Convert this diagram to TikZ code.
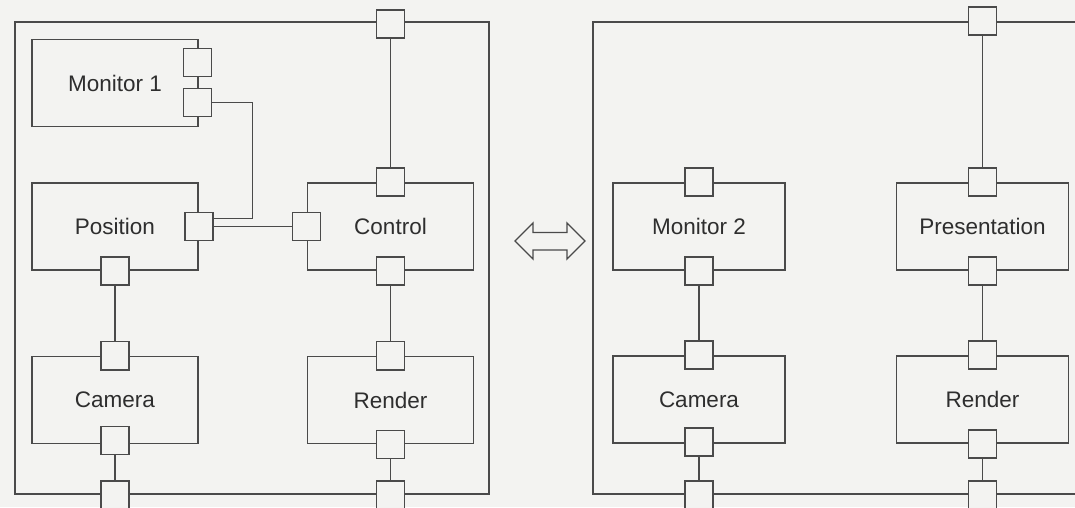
\documentclass[tikz,border=0pt]{standalone}
\usepackage{fontspec}
\setmainfont{Liberation Sans}
\usepackage{xcolor}
\usetikzlibrary{positioning}
\definecolor{bgcol}{HTML}{F3F3F1}
\definecolor{linecol}{HTML}{4A4A4A}

\begin{document}
\begin{tikzpicture}[x=0.025cm,y=-0.025cm]
\tikzstyle{frame}=[rectangle,draw=linecol,line width=1.1pt,minimum height=11.8cm];
\tikzstyle{comp}=[rectangle,draw=linecol,line width=1.1pt,minimum width=4.15cm,minimum height=2.175cm,text=black!82,font=\fontsize{16}{19}\selectfont];
\tikzstyle{wcomp}=[comp,minimum width=4.3cm];
\tikzstyle{port}=[rectangle,draw=linecol,fill=bgcol,line width=1.1pt,minimum size=0.7cm,inner sep=0pt];
\tikzstyle{wire}=[draw=linecol,line width=1.1pt];
\path[use as bounding box,fill=bgcol] (0,0) rectangle (1075,507);
\clip (0,0) rectangle (1075,507);
% the two systems
\node[frame,minimum width=11.85cm](left) at (252,258){};
\node[frame,minimum width=12.7cm](right) at (847,258){};
% components
\node[comp](mon1) at (115,83){Monitor 1};
\node[comp](pos) at (115,226.5){Position};
\node[comp](cam1) at (115,400){Camera};
\node[comp](ctl) at (390.5,226.5){Control};
\node[comp](ren1) at (390.5,400){Render};
\node[wcomp](mon2) at (699,226.5){Monitor 2};
\node[wcomp](pres) at (982.5,226.5){Presentation};
\node[wcomp](cam2) at (699,399.5){Camera};
\node[wcomp](ren2) at (982.5,399.5){Render};
% ports
\node[port](m1a) at (197.5,62.5){};
\node[port](m1b) at (197.5,102.5){};
\node[port](posr) at (pos.east){};
\node[port](posb) at (pos.south){};
\node[port](ctlt) at (ctl.north){};
\node[port](ctll) at (ctl.west){};
\node[port](ctlb) at (ctl.south){};
\node[port](cam1t) at (cam1.north){};
\node[port](cam1b) at ([yshift=0.1cm]cam1.south){};
\node[port](ren1t) at (ren1.north){};
\node[port](ren1b) at (ren1.south){};
\node[port](lt) at ([yshift=-0.075cm]left.north -| ctl.north){};
\node[port](lb1) at (left.south -| cam1.south){};
\node[port](lb2) at (left.south -| ren1.south){};
\node[port](m2t) at (mon2.north){};
\node[port](m2b) at (mon2.south){};
\node[port](prt) at (pres.north){};
\node[port](prb) at (pres.south){};
\node[port](cam2t) at (cam2.north){};
\node[port](cam2b) at ([yshift=0.05cm]cam2.south){};
\node[port](ren2t) at (ren2.north){};
\node[port](ren2b) at (ren2.south){};
\node[port](rt) at (right.north -| pres.north){};
\node[port](rb1) at (right.south -| cam2.south){};
\node[port](rb2) at (right.south -| ren2.south){};
% wiring
\draw[wire] (lt) -- (ctlt);
\draw[wire] (posr) -- (ctll);
\draw[wire] (m1b.east) -- ++(40,0) |- ([yshift=0.2cm]posr.east);
\draw[wire] (posb) -- (cam1t);
\draw[wire] (ctlb) -- (ren1t);
\draw[wire] (cam1b) -- (lb1);
\draw[wire] (ren1b) -- (lb2);
\draw[wire] (rt) -- (prt);
\draw[wire] (m2b) -- (cam2t);
\draw[wire] (prb) -- (ren2t);
\draw[wire] (cam2b) -- (rb1);
\draw[wire] (ren2b) -- (rb2);
% exchange between the systems
\draw[linecol,line width=0.9pt,fill=bgcol] (515,241) -- (533,223) -- (533,232.5) -- (567,232.5) -- (567,223) -- (585,241) -- (567,259) -- (567,250) -- (533,250) -- (533,259) -- cycle;
\end{tikzpicture}
\end{document}
